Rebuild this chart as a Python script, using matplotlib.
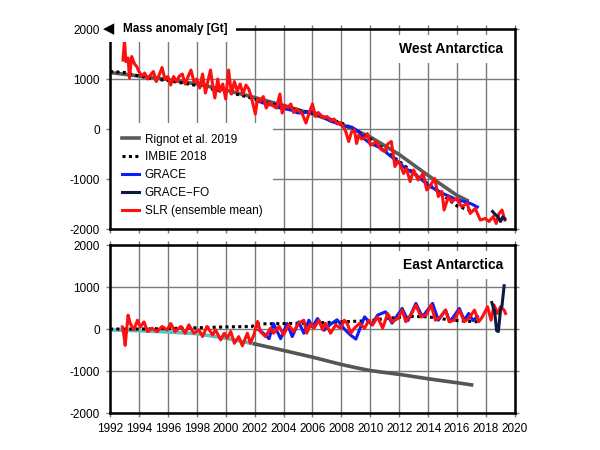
import numpy as np
import matplotlib
matplotlib.use('Agg')
import matplotlib.pyplot as plt
from matplotlib.patches import Rectangle

plt.rcParams['font.family'] = ['Liberation Sans', 'DejaVu Sans']
plt.rcParams['axes.unicode_minus'] = False

# ---- West Antarctica ----
rig_w_t = [1992, 1994, 1996, 1998, 2000, 2002, 2004, 2006, 2008, 2010, 2012, 2014, 2016, 2016.7]
rig_w = [1130, 1060, 990, 900, 780, 630, 470, 300, 100, -160, -510, -930, -1330, -1430]

imb_w_t = [1992, 1993, 1994, 1995, 1996, 1997, 1998, 1999, 2000, 2001, 2002, 2003, 2004,
           2005, 2006, 2007, 2008, 2009, 2010, 2011, 2012, 2013, 2014, 2015, 2016, 2017]
imb_w = [1150, 1130, 1060, 1000, 970, 920, 870, 800, 740, 680, 600, 520, 450,
         380, 320, 220, 120, -20, -200, -420, -650, -880, -1100, -1320, -1540, -1640]

gr_w_t = [2002.3, 2002.8, 2003.2, 2003.6, 2004.0, 2004.5, 2005.0, 2005.5, 2005.9, 2006.3,
          2006.8, 2007.3, 2007.8, 2008.2, 2008.7, 2009.2, 2009.6, 2010.0, 2010.5, 2010.9,
          2011.3, 2011.9, 2012.4, 2013.0, 2013.5, 2014.1, 2014.6, 2015.0, 2015.5, 2016.0,
          2016.5, 2017.0, 2017.4]
gr_w = [550, 500, 480, 430, 410, 380, 320, 330, 350, 310,
        230, 150, 110, 50, 40, -50, -200, -290, -350, -420,
        -520, -650, -780, -890, -1000, -1150, -1220, -1290, -1350, -1420,
        -1450, -1500, -1560]

fo_w_t = [2018.45, 2018.6, 2018.8, 2019.0, 2019.15, 2019.3]
fo_w = [-1650, -1700, -1750, -1850, -1760, -1800]

slr_w_t = [1992.9, 1993.0, 1993.1, 1993.25, 1993.35, 1993.5, 1993.7, 1993.85, 1994.0, 1994.2,
           1994.4, 1994.6, 1994.8, 1995.0, 1995.2, 1995.4, 1995.6, 1995.8, 1996.0, 1996.2,
           1996.4, 1996.6, 1996.8, 1997.0, 1997.2, 1997.4, 1997.6, 1997.8, 1998.0, 1998.2,
           1998.4, 1998.6, 1998.8, 1998.95, 1999.1, 1999.25, 1999.45, 1999.6, 1999.8, 2000.0,
           2000.2, 2000.4, 2000.6, 2000.8, 2001.0, 2001.2, 2001.4, 2001.6, 2001.8, 2002.05,
           2002.2, 2002.4, 2002.6, 2002.8, 2003.0, 2003.2, 2003.5, 2003.75, 2003.9, 2004.1,
           2004.3, 2004.5, 2004.7, 2004.9, 2005.1, 2005.3, 2005.55, 2005.8, 2006.0, 2006.2,
           2006.4, 2006.6, 2006.8, 2007.0, 2007.3, 2007.5, 2007.7, 2007.9, 2008.1, 2008.3,
           2008.5, 2008.7, 2008.9, 2009.05, 2009.2, 2009.4, 2009.6, 2009.8, 2010.0, 2010.2,
           2010.4, 2010.6, 2010.8, 2011.0, 2011.2, 2011.45, 2011.7, 2011.9, 2012.05, 2012.3,
           2012.5, 2012.75, 2013.0, 2013.3, 2013.65, 2013.9, 2014.1, 2014.45, 2014.7, 2014.95,
           2015.1, 2015.4, 2015.6, 2016.0, 2016.3, 2016.7, 2016.9, 2017.25, 2017.6, 2017.95,
           2018.2, 2018.5, 2018.7, 2018.9, 2019.1, 2019.3]
slr_w = [1380, 1780, 1350, 1420, 1020, 1450, 1300, 1250, 1150, 1060,
         1120, 1000, 1080, 1150, 950, 1080, 1230, 1000, 1050, 880,
         1050, 950, 1060, 1100, 900, 1050, 1180, 950, 1000, 820,
         1100, 720, 1000, 1180, 880, 620, 1000, 750, 900, 600,
         1180, 700, 950, 760, 900, 700, 880, 800, 600, 300,
         600, 560, 650, 420, 520, 480, 420, 700, 320, 470,
         430, 500, 330, 400, 360, 300, 120, 350, 500, 250,
         330, 270, 220, 250, 170, 200, 100, 130, 60, -50,
         -250, -60, -20, -290, -120, -200, -180, -90, -320, -300,
         -250, -350, -420, -450, -300, -250, -750, -650, -700, -890,
         -790, -1050, -820, -1020, -890, -1220, -1150, -990, -1350, -1250,
         -1620, -1350, -1450, -1390, -1550, -1490, -1690, -1590, -1820, -1790,
         -1850, -1750, -1890, -1690, -1620, -1820]

# ---- East Antarctica ----
rig_e_t = [1992, 1994, 1996, 1998, 2000, 2002, 2004, 2006, 2008, 2009, 2010, 2012, 2014, 2016, 2017]
rig_e = [-20, -40, -70, -110, -220, -355, -510, -670, -845, -920, -990, -1080, -1185, -1280, -1330]

imb_e_t = [1992, 1994, 1996, 1998, 2000, 2001.8, 2002.2, 2004, 2006, 2008, 2010, 2011,
           2012, 2013, 2014, 2015, 2016, 2017, 2017.5]
imb_e = [0, 0, 10, 30, 50, 60, 120, 130, 140, 170, 200, 250,
         280, 300, 290, 240, 200, 180, 170]

gr_e_t = [2002.3, 2002.6, 2003.0, 2003.3, 2003.8, 2004.25, 2004.6, 2005.05, 2005.4, 2005.75,
          2006.0, 2006.35, 2006.8, 2007.2, 2007.7, 2008.2, 2008.65, 2009.0, 2009.6, 2010.1,
          2010.5, 2011.05, 2011.5, 2012.2, 2012.6, 2013.15, 2013.6, 2014.3, 2014.7, 2015.2,
          2015.5, 2016.15, 2016.5, 2016.8, 2017.1, 2017.4]
gr_e = [-20, -100, -230, 130, -230, 130, -180, 170, -100, 210,
        50, 250, -30, 100, 220, 0, -150, -240, 290, 100,
        330, 410, 140, 490, 200, 610, 290, 610, 210, 450,
        170, 490, 210, 370, 200, 300]

fo_e_t = [2018.4, 2018.6, 2018.73, 2018.85, 2019.0, 2019.1, 2019.25]
fo_e = [630, 400, -40, -60, 450, 550, 1030]

slr_e_t = [1992.85, 1992.95, 1993.05, 1993.25, 1993.4, 1993.65, 1993.9, 1994.1, 1994.35, 1994.6,
           1994.9, 1995.25, 1995.6, 1995.95, 1996.2, 1996.5, 1996.9, 1997.2, 1997.45, 1997.8,
           1998.15, 1998.4, 1998.7, 1999.1, 1999.3, 1999.65, 1999.9, 2000.1, 2000.35, 2000.6,
           2000.9, 2001.15, 2001.5, 2001.7, 2001.95, 2002.2, 2002.4, 2002.75, 2003.1, 2003.3,
           2003.7, 2004.0, 2004.35, 2004.7, 2005.05, 2005.4, 2005.6, 2005.9, 2006.1, 2006.45,
           2006.7, 2006.9, 2007.25, 2007.6, 2007.95, 2008.2, 2008.4, 2008.65, 2008.9, 2009.25,
           2009.6, 2009.9, 2010.15, 2010.5, 2010.85, 2011.2, 2011.5, 2011.9, 2012.2, 2012.45,
           2012.8, 2013.15, 2013.5, 2013.85, 2014.2, 2014.5, 2014.85, 2015.2, 2015.45, 2015.8,
           2016.15, 2016.5, 2016.8, 2017.2, 2017.5, 2017.75, 2018.1, 2018.35, 2018.55, 2018.8,
           2019.0, 2019.25, 2019.35]
slr_e = [50, -120, -390, 330, 130, -20, 210, 50, 170, -60,
         20, -60, 60, -20, 130, -60, 60, -100, 100, -100,
         -20, -180, 60, -140, -20, -260, -100, -220, -60, -340,
         -180, -400, -100, -340, -140, 180, -60, -180, 20, -100,
         60, -140, 100, -60, 140, 210, -100, 135, 20, 210,
         -20, 135, -100, 95, 20, 210, 135, -100, 20, 135,
         20, 210, 95, 290, 20, 370, 175, 250, 450, 175,
         330, 570, 290, 330, 570, 210, 290, 450, 175, 210,
         450, 175, 250, 450, 175, 290, 530, 210, 570, 370,
         530, 450, 370]

year_ticks = list(range(1992, 2021, 2))
mass_ticks = [-2000, -1000, 0, 1000, 2000]

fig = plt.figure(figsize=(6, 4.5), dpi=100)
ax1 = fig.add_axes([0.1833, 0.4911, 0.675, 0.4444])
ax2 = fig.add_axes([0.1833, 0.0822, 0.675, 0.3733])


def style(ax, show_x):
    ax.set_xlim(1992, 2020)
    ax.set_ylim(-2000, 2000)
    ax.set_xticks(year_ticks)
    ax.set_yticks(mass_ticks)
    ax.grid(True, color='#7a7a7a', lw=1.0, zorder=0)
    ax.set_axisbelow(True)
    ax.tick_params(direction='out', length=2.8, width=1.0, color='#7a7a7a',
                   top=True, right=True, labelsize=8.5, pad=4.5)
    if not show_x:
        ax.tick_params(labelbottom=False)
    for s in ax.spines.values():
        s.set_linewidth(1.8)
        s.set_color('black')
        s.set_zorder(20)


def draw(ax, rt, rv, it, iv, gt, gv, ft, fv, st, sv, split_rignot):
    rt = np.array(rt)
    rv = np.array(rv)
    if split_rignot:
        m = rt <= 2002
        ax.plot(rt[m], rv[m], color='#5cc0c0', lw=2.6, zorder=2)
        ax.plot(rt[rt >= 2002], rv[rt >= 2002], color='#555555', lw=2.6, zorder=2)
    else:
        ax.plot(rt, rv, color='#5a5a5a', lw=2.6, zorder=2, label='Rignot et al. 2019')
    ax.plot(it, iv, color='black', lw=2.2, ls=(0, (1, 1.1)), zorder=3, label='IMBIE 2018')
    ax.plot(gt, gv, color='#0a1ff5', lw=2.2, zorder=4, label='GRACE')
    ax.plot(st, sv, color='#ff1010', lw=2.2, zorder=5, label='SLR (ensemble mean)')
    ax.plot(ft, fv, color='#0a1a40', lw=2.2, zorder=6, label='GRACE\u2212FO')


style(ax1, False)
style(ax2, True)
draw(ax1, rig_w_t, rig_w, imb_w_t, imb_w, gr_w_t, gr_w, fo_w_t, fo_w, slr_w_t, slr_w, False)
draw(ax2, rig_e_t, rig_e, imb_e_t, imb_e, gr_e_t, gr_e, fo_e_t, fo_e, slr_e_t, slr_e, True)

h, l = ax1.get_legend_handles_labels()
order = [0, 1, 2, 4, 3]
leg = ax1.legend([h[i] for i in order], [l[i] for i in order], loc='lower left',
                 fontsize=8.5, handlelength=1.45, handletextpad=0.5, labelspacing=0.5,
                 borderaxespad=0.1, borderpad=0.9, frameon=True, fancybox=False,
                 framealpha=1, facecolor='white', edgecolor='none')
leg.set_zorder(10)

ax1.text(0.97, 0.9, 'West Antarctica', transform=ax1.transAxes, ha='right', va='center',
         fontsize=10, fontweight='bold', zorder=11,
         bbox=dict(boxstyle='square,pad=0.5', fc='white', ec='none'))
ax2.text(0.97, 0.88, 'East Antarctica', transform=ax2.transAxes, ha='right', va='center',
         fontsize=10, fontweight='bold', zorder=11,
         bbox=dict(boxstyle='square,pad=0.5', fc='white', ec='none'))

# white patch over the top-left corner for the y label
fig.patches.append(Rectangle((101 / 600, 1 - 42 / 450), 135 / 600, 24 / 450,
                             transform=fig.transFigure, fc='white', ec='none', zorder=5))
fig.text(103 / 600, 1 - 29 / 450, '\u25c0', fontsize=10.5, va='center', ha='left',
         family='DejaVu Sans', zorder=6)
fig.text(123 / 600, 1 - 29 / 450, 'Mass anomaly [Gt]', fontsize=8.5, fontweight='bold',
         va='center', ha='left', zorder=6)

fig.savefig('out.png', dpi=100)
